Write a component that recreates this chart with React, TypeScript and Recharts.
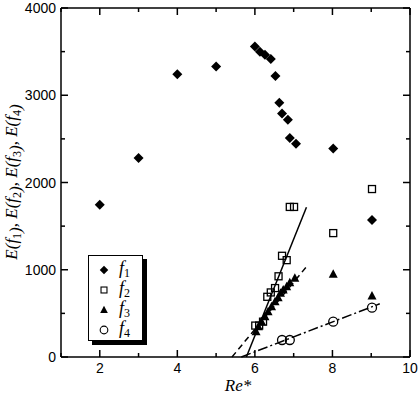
import React from 'react';
import { ComposedChart, Scatter, Line, XAxis, YAxis, Legend } from 'recharts';

// f1 .. f4
const f1X = [2, 3, 4, 5, 6.0, 6.13, 6.26, 6.41, 6.53, 6.63, 6.7, 6.85, 6.9, 7.06, 8.02, 9.02];
const f1Y = [1745, 2280, 3240, 3330, 3560, 3500, 3465, 3415, 3220, 2915, 2790, 2720, 2510, 2445, 2390, 1570];

const f2X = [6.01, 6.11, 6.21, 6.32, 6.41, 6.52, 6.61, 6.7, 6.82, 6.9, 7.01, 8.02, 9.02];
const f2Y = [360, 360, 405, 690, 740, 790, 925, 1160, 1110, 1720, 1720, 1420, 1925];

const f3X = [6.03, 6.09, 6.17, 6.26, 6.34, 6.43, 6.52, 6.6, 6.66, 6.73, 6.82, 6.9, 7.03, 8.02, 9.02];
const f3Y = [290, 348, 405, 462, 519, 576, 634, 680, 730, 768, 806, 852, 902, 948, 699];

const f4X = [6.7, 6.9, 8.02, 9.02];
const f4Y = [195, 195, 405, 565];

// fitted lines (end points)
const fit2X = [5.78, 7.33];
const fit2Y = [0, 1716];
const fit3X = [5.41, 7.33];
const fit3Y = [0, 1035];
const fit4X = [5.65, 9.22];
const fit4Y = [0, 610];

const xTicks = [1, 2, 3, 4, 5, 6, 7, 8, 9, 10];
const yTicks = [0, 500, 1000, 1500, 2000, 2500, 3000, 3500, 4000];

const zip = (xs: number[], ys: number[]) => xs.map((x, i) => ({ x, y: ys[i] }));

const TICK_FONT = '"Liberation Sans", Arial, sans-serif';
const SERIF = '"Liberation Serif", "Times New Roman", serif';
const GAP = 5;

const Diamond = ({ cx, cy }: any) => (
  <polygon points={`${cx},${cy - 5} ${cx + 5},${cy} ${cx},${cy + 5} ${cx - 5},${cy}`} fill="#000" />
);
const Square = ({ cx, cy }: any) => (
  <rect x={cx - 3.5} y={cy - 3.5} width={7} height={7} fill="none" stroke="#000" strokeWidth={1.3} />
);
const Triangle = ({ cx, cy }: any) => (
  <polygon points={`${cx},${cy - 5} ${cx + 4.5},${cy + 3.5} ${cx - 4.5},${cy + 3.5}`} fill="#000" />
);
const Circle = ({ cx, cy }: any) => (
  <circle cx={cx} cy={cy} r={4.5} fill="none" stroke="#000" strokeWidth={1.3} />
);
const Nothing = () => <g />;

const BottomTick = ({ x, y, payload }: any) => {
  const v = payload.value;
  const major = v % 2 === 0;
  const axisY = y - GAP;
  return (
    <g>
      <line x1={x} y1={axisY} x2={x} y2={axisY - (major ? 7 : 4)} stroke="#000" strokeWidth={1.5} />
      {major && (
        <text x={x} y={y} dy="0.75em" textAnchor="middle" fontFamily={TICK_FONT} fontSize={14} fill="#000">
          {v}
        </text>
      )}
    </g>
  );
};

const TopTick = ({ x, y, payload }: any) => {
  const major = payload.value % 2 === 0;
  const axisY = y + GAP;
  return <line x1={x} y1={axisY} x2={x} y2={axisY + (major ? 7 : 4)} stroke="#000" strokeWidth={1.5} />;
};

const LeftTick = ({ x, y, payload }: any) => {
  const v = payload.value;
  const major = v % 1000 === 0;
  const axisX = x + GAP;
  return (
    <g>
      <line x1={axisX} y1={y} x2={axisX + (major ? 7 : 4)} y2={y} stroke="#000" strokeWidth={1.5} />
      {major && (
        <text x={x} y={y} dy="0.36em" textAnchor="end" fontFamily={TICK_FONT} fontSize={14} fill="#000">
          {v}
        </text>
      )}
    </g>
  );
};

const RightTick = ({ x, y, payload }: any) => {
  const major = payload.value % 1000 === 0;
  const axisX = x - GAP;
  return <line x1={axisX} y1={y} x2={axisX - (major ? 7 : 4)} y2={y} stroke="#000" strokeWidth={1.5} />;
};

const YLabel = () => {
  const parts = ['1', '2', '3', '4'];
  return (
    <text
      x={17}
      y={182}
      transform="rotate(-90 17 182)"
      textAnchor="middle"
      dy="0.35em"
      fontFamily={SERIF}
      fontSize={17}
      fontStyle="italic"
      fill="#000"
    >
      {parts.map((p, i) => (
        <React.Fragment key={p}>
          <tspan dy={i === 0 ? 0 : -4}>{(i === 0 ? '' : ', ') + 'E(f'}</tspan>
          <tspan fontSize={12} fontStyle="normal" dy={4}>{p}</tspan>
          <tspan>)</tspan>
        </React.Fragment>
      ))}
    </text>
  );
};

const XLabel = () => (
  <text x={238} y={391} textAnchor="middle" fontFamily={SERIF} fontSize={17} fontStyle="italic" fill="#000">
    Re*
  </text>
);

const legendItems = [
  { name: '1', Shape: Diamond },
  { name: '2', Shape: Square },
  { name: '3', Shape: Triangle },
  { name: '4', Shape: Circle },
];

// legend symbols are a touch smaller than the plotted ones
const LegendBox = () => (
  <div
    style={{
      width: 55,
      height: 86,
      boxSizing: 'border-box',
      background: '#fff',
      border: '1.5px solid #000',
      boxShadow: '4px 4px 0 #000',
      padding: '4px 0 0 9px',
      fontFamily: SERIF,
    }}
  >
    {legendItems.map(({ name, Shape }) => (
      <div key={name} style={{ display: 'flex', alignItems: 'center', height: 20 }}>
        <svg width={12} height={12}>
          <g transform="translate(6 6) scale(0.85)">
            <Shape cx={0} cy={0} />
          </g>
        </svg>
        <span style={{ fontStyle: 'italic', fontSize: 18, marginLeft: 9, lineHeight: '18px' }}>
          f<sub style={{ fontStyle: 'normal', fontSize: 12, verticalAlign: '-3px' }}>{name}</sub>
        </span>
      </div>
    ))}
  </div>
);

export default function App() {
  return (
    <div style={{ position: 'absolute', left: 0, top: 0, width: 420, height: 397, background: '#fff' }}>
      <ComposedChart width={420} height={397} margin={{ top: 7, right: 9, bottom: 0, left: 0 }}>
        <XAxis
          dataKey="x"
          type="number"
          domain={[1, 10]}
          ticks={xTicks}
          interval={0}
          height={40}
          tickSize={0}
          tickMargin={GAP}
          tick={BottomTick}
          axisLine={{ stroke: '#000', strokeWidth: 1.5 }}
          label={{ content: XLabel }}
        />
        <XAxis
          xAxisId="top"
          orientation="top"
          dataKey="x"
          type="number"
          domain={[1, 10]}
          ticks={xTicks}
          interval={0}
          height={1}
          tickSize={0}
          tickMargin={GAP}
          tick={TopTick}
          axisLine={{ stroke: '#000', strokeWidth: 1.5 }}
        />
        <YAxis
          dataKey="y"
          type="number"
          domain={[0, 4000]}
          ticks={yTicks}
          interval={0}
          width={61}
          tickSize={0}
          tickMargin={GAP}
          tick={LeftTick}
          axisLine={{ stroke: '#000', strokeWidth: 1.5 }}
          label={{ content: YLabel }}
        />
        <YAxis
          yAxisId="right"
          orientation="right"
          dataKey="y"
          type="number"
          domain={[0, 4000]}
          ticks={yTicks}
          interval={0}
          width={1}
          tickSize={0}
          tickMargin={GAP}
          tick={RightTick}
          axisLine={{ stroke: '#000', strokeWidth: 1.5 }}
        />
        <Line data={zip(fit2X, fit2Y)} dataKey="y" stroke="#000" strokeWidth={1.5} dot={false} isAnimationActive={false} legendType="none" />
        <Line data={zip(fit3X, fit3Y)} dataKey="y" stroke="#000" strokeWidth={1.5} strokeDasharray="6 4" dot={false} isAnimationActive={false} legendType="none" />
        <Line data={zip(fit4X, fit4Y)} dataKey="y" stroke="#000" strokeWidth={1.5} strokeDasharray="10 3 2 3" dot={false} isAnimationActive={false} legendType="none" />
        <Scatter name="f1" data={zip(f1X, f1Y)} shape={Diamond} isAnimationActive={false} />
        <Scatter name="f2" data={zip(f2X, f2Y)} shape={Square} isAnimationActive={false} />
        <Scatter name="f3" data={zip(f3X, f3Y)} shape={Triangle} isAnimationActive={false} />
        <Scatter name="f4" data={zip(f4X, f4Y)} shape={Circle} isAnimationActive={false} />
        {/* invisible series so the frame axes (top / right) get drawn */}
        <Scatter
          xAxisId="top"
          yAxisId="right"
          data={zip(f4X, f4Y)}
          shape={Nothing}
          legendType="none"
          isAnimationActive={false}
        />
        <Legend
          layout="vertical"
          align="center"
          verticalAlign="middle"
          content={LegendBox}
          wrapperStyle={{ left: 88, top: 255, width: 60, height: 92 }}
        />
      </ComposedChart>
    </div>
  );
}
